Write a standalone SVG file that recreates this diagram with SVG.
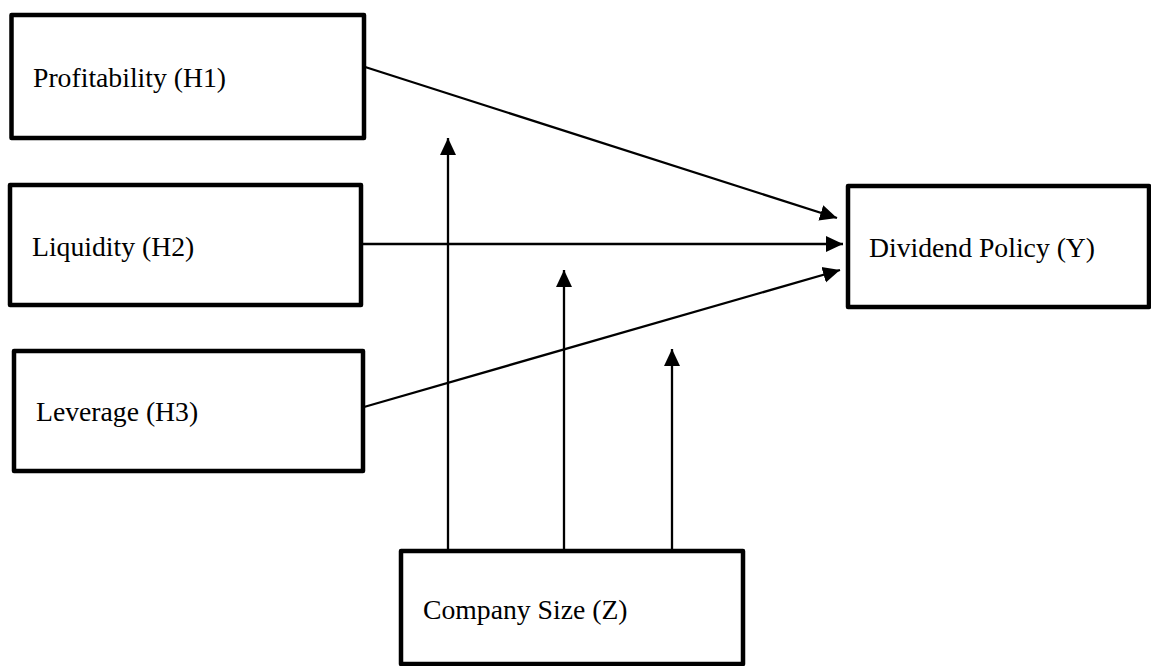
<svg xmlns="http://www.w3.org/2000/svg" width="1151" height="666" viewBox="0 0 1151 666">
<style>
.box{fill:#fff;stroke:#000;stroke-width:4.5;stroke-linejoin:round}
.lbl{font-family:"Liberation Serif","Times New Roman",serif;font-size:27.7px;fill:#000}
.edge{stroke:#000;stroke-width:2.3;fill:none}
</style>
<defs>
<marker id="ah" markerUnits="userSpaceOnUse" markerWidth="17" markerHeight="17" viewBox="0 0 17 17" refX="17" refY="8.5" orient="auto">
<path d="M0,0.5 L17,8.5 L0,16.5 Z" fill="#000"/>
</marker>
</defs>
<rect width="1151" height="666" fill="#fff"/>
<g id="connectors">
<line class="edge" x1="362" y1="66" x2="837" y2="218" marker-end="url(#ah)"/>
<line class="edge" x1="362" y1="244" x2="843" y2="244" marker-end="url(#ah)"/>
<line class="edge" x1="364" y1="407" x2="840" y2="270" marker-end="url(#ah)"/>
<line class="edge" x1="448" y1="551" x2="448" y2="138" marker-end="url(#ah)"/>
<line class="edge" x1="564" y1="551" x2="564" y2="270" marker-end="url(#ah)"/>
<line class="edge" x1="672" y1="551" x2="672" y2="349" marker-end="url(#ah)"/>
</g>
<g id="profitability">
<rect class="box" x="11.5" y="15" width="352.5" height="123"/>
<text class="lbl" x="33" y="87">Profitability (H1)</text>
</g>
<g id="liquidity">
<rect class="box" x="10" y="185" width="351" height="120"/>
<text class="lbl" x="32" y="256">Liquidity (H2)</text>
</g>
<g id="leverage">
<rect class="box" x="14" y="351" width="349" height="120"/>
<text class="lbl" x="36" y="421">Leverage (H3)</text>
</g>
<g id="dividend">
<rect class="box" x="848" y="186" width="301" height="121"/>
<text class="lbl" x="869" y="257">Dividend Policy (Y)</text>
</g>
<g id="company">
<rect class="box" x="401" y="551" width="342" height="113"/>
<text class="lbl" x="423" y="619">Company Size (Z)</text>
</g>
</svg>
